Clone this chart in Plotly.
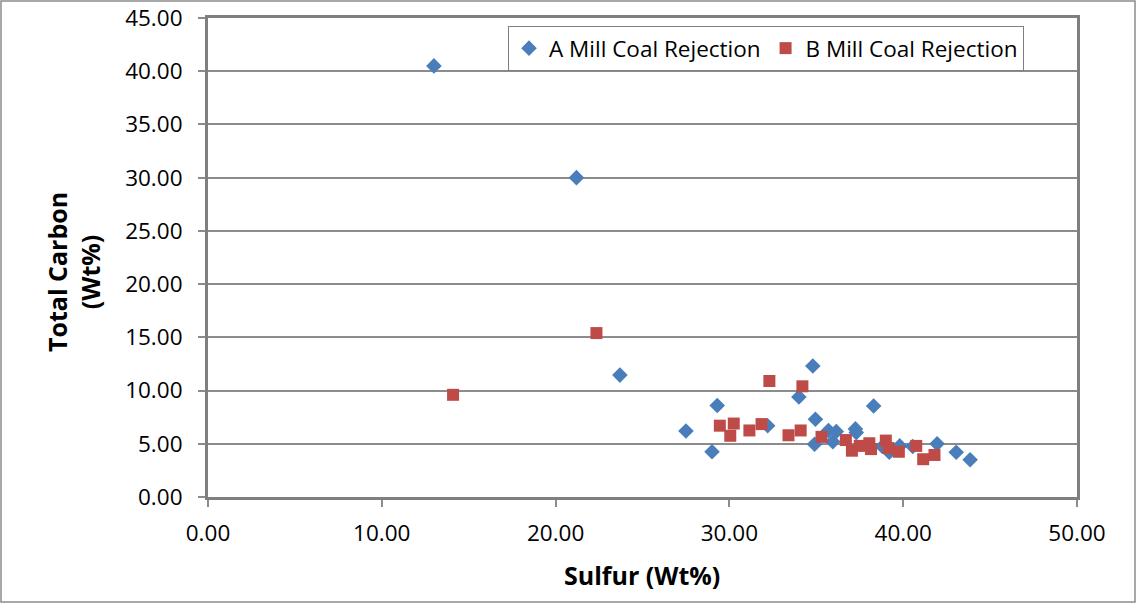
import plotly.graph_objects as go

a_sulfur = [13.0, 21.2, 23.7, 27.5, 29.0, 29.3, 32.2, 34.0, 34.8, 34.95, 34.9, 35.7, 35.95, 36.15,
            37.25, 37.3, 38.3, 38.8, 39.2, 39.8, 40.55, 41.95, 43.05, 43.85]
a_carbon = [40.5, 30.0, 11.45, 6.2, 4.25, 8.6, 6.7, 9.4, 12.3, 7.3, 4.95, 6.25, 5.2, 6.15,
            6.4, 6.05, 8.55, 4.75, 4.2, 4.8, 4.75, 5.0, 4.2, 3.5]

b_sulfur = [14.1, 22.35, 29.45, 30.05, 30.25, 31.15, 31.85, 32.3, 33.4, 34.1, 34.2, 35.3, 36.7,
            37.05, 37.5, 38.05, 38.15, 39.0, 39.15, 39.75, 40.75, 41.15, 41.8]
b_carbon = [9.6, 15.4, 6.7, 5.75, 6.9, 6.25, 6.85, 10.9, 5.8, 6.25, 10.4, 5.65, 5.35,
            4.35, 4.8, 5.05, 4.5, 5.3, 4.6, 4.25, 4.8, 3.55, 3.95]

W, H = 1136, 603
L, R, T, B = 208, 1077, 18, 497
pw, ph = R - L, B - T

def px(x):
    return (x - L) / pw

def py(y):
    return (B - y) / ph

fig = go.Figure()
fig.add_trace(go.Scatter(x=a_sulfur, y=a_carbon, mode="markers", name="A Mill Coal Rejection",
                         marker=dict(symbol="diamond", size=12, color="#4A7EBB")))
fig.add_trace(go.Scatter(x=b_sulfur, y=b_carbon, mode="markers", name="B Mill Coal Rejection",
                         marker=dict(symbol="square", size=12, color="#BE4B48")))

font = "'Open Sans', sans-serif"
fig.update_layout(
    width=W, height=H,
    margin=dict(l=L, r=W - R, t=T, b=H - B, pad=0),
    paper_bgcolor="white", plot_bgcolor="white",
    font=dict(family=font, size=22, color="black"),
    showlegend=True,
    legend=dict(orientation="h", x=px(508), y=py(26), xanchor="left", yanchor="top",
                bordercolor="#7f7f7f", borderwidth=1, bgcolor="white",
                font=dict(size=22.5), itemsizing="constant", tracegroupgap=0),
    xaxis=dict(range=[0, 50], dtick=10, tickformat=".2f", showgrid=False, zeroline=False,
               showline=True, linecolor="#7f7f7f", linewidth=3, mirror=True,
               ticks="outside", ticklen=7, tickcolor="#8c8c8c", tickwidth=1.5,
               automargin=False, ticklabelstandoff=7, tickfont=dict(size=22.5)),
    yaxis=dict(range=[0, 45], dtick=5, tickformat=".2f", showgrid=True, gridcolor="#8c8c8c",
               gridwidth=1.5, zeroline=False,
               showline=True, linecolor="#7f7f7f", linewidth=3, mirror=True,
               ticks="outside", ticklen=7, tickcolor="#8c8c8c", tickwidth=1.5,
               automargin=False, ticklabelstandoff=11, tickfont=dict(size=22.5)),
)

fig.add_annotation(text="<b>Sulfur (Wt%)</b>", xref="paper", yref="paper",
                   x=px(642), y=py(575), showarrow=False, font=dict(size=25),
                   xanchor="center", yanchor="middle")
fig.add_annotation(text="<b>Total Carbon<br>(Wt%)</b>", xref="paper", yref="paper",
                   x=px(73), y=py(272), showarrow=False, font=dict(size=25),
                   textangle=-90, xanchor="center", yanchor="middle")

# outer chart-area border
fig.add_shape(type="rect", xref="paper", yref="paper",
              x0=px(1), x1=px(W - 1), y0=py(H - 1), y1=py(1),
              line=dict(color="#8c8c8c", width=1.5), layer="below")

fig.write_html("out.html")
